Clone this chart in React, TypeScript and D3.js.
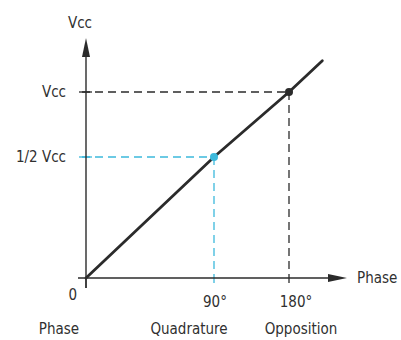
import React from "react";
import * as d3 from "d3";

const phaseTicks = [0, 90, 180];
const phaseTickLabels = ["0", "90°", "180°"];
const phaseCategories = ["Phase", "Quadrature", "Opposition"];
const levelValues = [0.5, 1];
const levelLabels = ["1/2 Vcc", "Vcc"];
const lineX = [0, 90, 180, 220];
const lineY = [0, 0.5, 1, 1.24];
const markerX = [90, 180];
const markerY = [0.5, 1];

const W = 401;
const H = 340;
const FONT = "'DejaVu Sans Condensed', 'DejaVu Sans', sans-serif";
const TXT = "#303030";
const DARK = "#2b2b2b";
const BLUE = "#3cb9dc";

export default function App() {
  const x = d3.scaleLinear().domain([0, 90, 180]).range([86, 214, 289]);
  const y = d3.scaleLinear().domain([0, 0.5, 1]).range([278, 157, 92]);
  const pts: [number, number][] = lineX.map((v, i) => [v, lineY[i]]);
  const line = d3
    .line<[number, number]>()
    .x((d) => x(d[0]))
    .y((d) => y(d[1]));
  const x0 = x(0);
  const y0 = y(0);
  const markerColors = [BLUE, DARK];

  return (
    <svg
      width={W}
      height={H}
      style={{ position: "absolute", left: 0, top: 0, background: "#fff" }}
    >
      {/* guide lines */}
      {markerX.map((mx, i) => (
        <g key={"g" + i}>
          <line
            x1={x0 - 4}
            x2={x(mx)}
            y1={y(markerY[i])}
            y2={y(markerY[i])}
            stroke={markerColors[i]}
            strokeWidth={1.3}
            strokeDasharray="8,5"
          />
          <line
            x1={x(mx)}
            x2={x(mx)}
            y1={y(markerY[i])}
            y2={y0}
            stroke={markerColors[i]}
            strokeWidth={1.3}
            strokeDasharray="8,5"
          />
        </g>
      ))}
      {/* level ticks */}
      {levelValues.map((v, i) => (
        <line
          key={"lt" + i}
          x1={x0 - 7}
          x2={x0 + 6}
          y1={y(v)}
          y2={y(v)}
          stroke={i === 0 ? BLUE : DARK}
          strokeWidth={1.3}
        />
      ))}
      {/* phase ticks */}
      {phaseTicks.map((t, i) => (
        <line
          key={"pt" + i}
          x1={x(t)}
          x2={x(t)}
          y1={y0}
          y2={y0 + (i === 0 ? 10 : 5)}
          stroke={i === 1 ? BLUE : DARK}
          strokeWidth={1.3}
        />
      ))}
      {/* axes */}
      <line x1={x0} x2={x0} y1={y0 + 10} y2={50} stroke={DARK} strokeWidth={1.4} />
      <line x1={x0 - 8} x2={335} y1={y0} y2={y0} stroke={DARK} strokeWidth={1.4} />
      <path d={`M${x0},38 L${x0 - 4},57 L${x0 + 4},57 Z`} fill={DARK} />
      <path d={`M347,${y0} L328,${y0 - 4} L328,${y0 + 4} Z`} fill={DARK} />
      {/* main line */}
      <path d={line(pts) || ""} fill="none" stroke={DARK} strokeWidth={2.8} strokeLinecap="round" />
      {/* markers */}
      {markerX.map((mx, i) => (
        <circle key={"m" + i} cx={x(mx)} cy={y(markerY[i])} r={4} fill={markerColors[i]} />
      ))}
      {/* text */}
      <g fontFamily={FONT} fontSize={15} fill={TXT}>
        <text x={x0 - 6} y={28} textAnchor="middle">Vcc</text>
        <text x={357} y={y0 + 5}>Phase</text>
        {levelValues.map((v, i) => (
          <text key={"ll" + i} x={x0 - 20} y={y(v) + 5} textAnchor="end">
            {levelLabels[i]}
          </text>
        ))}
        {phaseTicks.map((t, i) => (
          <text
            key={"pl" + i}
            x={i === 0 ? x(t) - 9 : x(t) + (i === 1 ? 1 : 7)}
            y={i === 0 ? 300 : 307}
            textAnchor={i === 0 ? "end" : "middle"}
          >
            {phaseTickLabels[i]}
          </text>
        ))}
        {phaseCategories.map((c, i) => (
          <text
            key={"pc" + i}
            x={i === 0 ? x(phaseTicks[i]) - 27 : x(phaseTicks[i]) + (i === 1 ? -25 : 12)}
            y={334}
            textAnchor="middle"
          >
            {c}
          </text>
        ))}
      </g>
    </svg>
  );
}
